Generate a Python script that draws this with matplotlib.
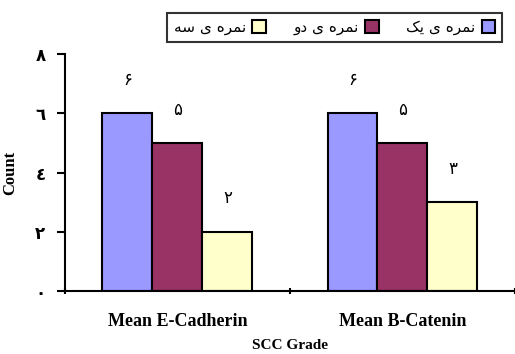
import matplotlib
matplotlib.use("Agg")
import matplotlib.pyplot as plt
import numpy as np

plt.rcParams['font.family'] = ['Liberation Serif', 'DejaVu Sans']

# chart values
groups = ["Mean E-Cadherin", "Mean B-Catenin"]
grade_one = [6, 6]
grade_two = [5, 5]
grade_three = [2, 3]
series = [grade_one, grade_two, grade_three]

# Persian names written as shaped glyphs in visual (left-to-right) order
series_names = [
    "\uFB8F\uFEF3 \uFEEF \uFEE9\uFEAE\uFEE4\uFEE7",   # grade one
    "\uFEED\uFEA9 \uFEEF \uFEE9\uFEAE\uFEE4\uFEE7",   # grade two
    "\uFEEA\uFEB3 \uFEEF \uFEE9\uFEAE\uFEE4\uFEE7",   # grade three
]
colors = ["#9999FF", "#993366", "#FFFFCC"]
fa_digits = "۰۱۲۳۴۵۶۷۸۹"
y_ticks = [0, 2, 4, 6, 8]
y_tick_labels = ["٠", "٢", "٤", "٦", "٨"]


def to_fa(n):
    return "".join(fa_digits[int(c)] for c in str(n))


fig = plt.figure(figsize=(5.15, 3.54), dpi=100)
ax = fig.add_axes([0.126, 0.178, 0.874, 0.669])

x = np.arange(len(groups))
w = 0.222
handles = []
for i, vals in enumerate(series):
    bars = ax.bar(x + (i - 1) * w, vals, w, color=colors[i],
                  edgecolor="black", linewidth=1.5, label=series_names[i])
    handles.append(bars)
    for b, v in zip(bars, vals):
        ax.annotate(to_fa(v), (b.get_x() + b.get_width() / 2, v),
                    xytext=(0, 24), textcoords="offset points",
                    ha="center", va="center", fontsize=12,
                    family="DejaVu Sans")

ax.set_ylim(0, 8)
ax.set_xlim(-0.5, 1.5)
ax.set_yticks(y_ticks)
ax.set_yticklabels(y_tick_labels, family="DejaVu Sans", fontsize=12,
                   fontweight="bold")
ax.set_xticks([-0.5, 0.5, 1.5])
ax.set_xticklabels([])
ax.set_xticks(x, minor=True)
ax.set_xticklabels(groups, minor=True, fontsize=13, fontweight="bold")
ax.tick_params(axis="x", which="minor", length=0, pad=16)
ax.tick_params(axis="x", which="major", length=5, width=1.5, direction="inout")
ax.tick_params(axis="y", length=6, width=1.5, pad=8)
for s in ["top", "right"]:
    ax.spines[s].set_visible(False)
for s in ["left", "bottom"]:
    ax.spines[s].set_linewidth(1.5)

ax.set_ylabel("Count", fontsize=12, fontweight="bold", labelpad=12)
ax.set_xlabel("SCC Grade", fontsize=11, fontweight="bold", labelpad=6)

order = [2, 1, 0]
leg = fig.legend([handles[i] for i in order], [series_names[i] for i in order],
                 ncol=3, markerfirst=False, loc="upper right",
                 bbox_to_anchor=(0.99, 0.985), frameon=True, fancybox=False,
                 edgecolor="black", handlelength=0.9,
                 handleheight=0.9, columnspacing=1.8, handletextpad=0.4,
                 borderpad=0.45, prop={"family": "DejaVu Sans", "size": 11})
leg.get_frame().set_linewidth(1.5)

fig.savefig("out.png", dpi=100)
